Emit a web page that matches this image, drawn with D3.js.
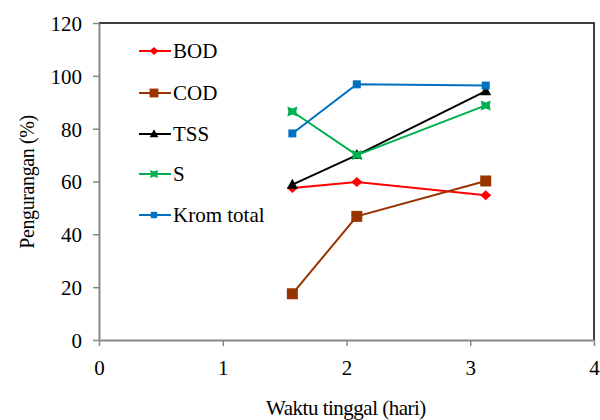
<!DOCTYPE html>
<meta charset="utf-8">
<style>
    body { margin: 0; background: #fff; }
    text { font-family: "Liberation Serif", "Times New Roman", serif; fill: #000; }
</style>
<svg width="600" height="420"></svg>
<script src="https://cdn.jsdelivr.net/npm/d3@7"></script>
<script>
    // data
    var waktu = [1.5625, 2.0833, 3.125];
    var seriesNames = ["BOD", "COD", "TSS", "S", "Krom total"];
    var bod = [57.5, 59.8, 54.8];
    var cod = [17.5, 46.8, 60.2];
    var tss = [58.8, 70.0, 94.2];
    var sulfida = [86.5, 70.0, 88.8];
    var krom = [78.2, 96.8, 96.3];
    var xTicks = [0, 1, 2, 3, 4];
    var yTicks = [0, 20, 40, 60, 80, 100, 120];

    var svg = d3.select("svg"),
        x = d3.scaleLinear().domain([0, 4]).range([99, 594]),
        y = d3.scaleLinear().domain([0, 120]).range([340, 23]);

    var series = [
        {name: seriesNames[0], vals: bod, color: "#ff0000", sym: "diamond"},
        {name: seriesNames[1], vals: cod, color: "#993300", sym: "bigsquare"},
        {name: seriesNames[2], vals: tss, color: "#000000", sym: "triangle"},
        {name: seriesNames[3], vals: sulfida, color: "#00b050", sym: "bowtie"},
        {name: seriesNames[4], vals: krom, color: "#0070c0", sym: "square"}
    ];

    // frame: top and right black
    svg.append("path")
        .attr("d", "M" + x(0) + "," + y(120) + "H" + x(4) + "V" + y(0))
        .attr("fill", "none").attr("stroke", "#000").attr("stroke-width", 1.5);

    var yAxis = svg.append("g")
        .attr("transform", "translate(" + x(0) + ",0)")
        .call(d3.axisLeft(y).tickValues(yTicks).tickFormat(d3.format("d"))
            .tickSizeInner(6).tickSizeOuter(0).tickPadding(11));
    var xAxis = svg.append("g")
        .attr("transform", "translate(0," + y(0) + ")")
        .call(d3.axisBottom(x).tickValues(xTicks).tickFormat(d3.format("d"))
            .tickSizeInner(6).tickSizeOuter(0).tickPadding(22));

    [yAxis, xAxis].forEach(function (a) {
        a.select(".domain").attr("stroke", "#888").attr("stroke-width", 2);
        a.selectAll(".tick line").attr("stroke", "#888").attr("stroke-width", 1.5);
        a.selectAll(".tick text")
            .style("font-size", "21px")
            .style("font-family", "'Liberation Serif', serif");
    });
    yAxis.selectAll(".tick text").attr("dy", "0.35em");
    xAxis.selectAll(".tick text").attr("dy", "0.35em");

    function symbol(g, sym, color, cx, cy, k) {
        k = k || 1;
        var t = "translate(" + cx + "," + cy + ") scale(" + k + ")";
        if (sym === "diamond") {
            g.append("path").attr("d", "M0,-5L5.5,0L0,5L-5.5,0Z")
                .attr("transform", t).attr("fill", color);
        } else if (sym === "bigsquare") {
            g.append("path").attr("d", "M-5.5,-5.5H5.5V5.5H-5.5Z")
                .attr("transform", t).attr("fill", color);
        } else if (sym === "square") {
            g.append("path").attr("d", "M-4,-4H4V4H-4Z")
                .attr("transform", t).attr("fill", color);
        } else if (sym === "triangle") {
            g.append("path").attr("d", "M0,-6L5.5,4L-5.5,4Z")
                .attr("transform", t).attr("fill", color);
        } else {
            g.append("path")
                .attr("d", "M-5,-5L0,-3L5,-5L4,0L5,5L0,3L-5,5L-4,0Z")
                .attr("transform", t).attr("fill", color);
        }
    }

    var line = d3.line()
        .x(function (d, i) { return x(waktu[i]); })
        .y(function (d) { return y(d); });

    series.forEach(function (s) {
        var g = svg.append("g");
        g.append("path")
            .attr("d", line(s.vals))
            .attr("fill", "none")
            .attr("stroke", s.color)
            .attr("stroke-width", 2);
        s.vals.forEach(function (v, i) {
            symbol(g, s.sym, s.color, x(waktu[i]), y(v));
        });
    });

    // legend
    var legY = [51, 93, 134, 174, 215];
    series.forEach(function (s, i) {
        var g = svg.append("g");
        g.append("line")
            .attr("x1", 139).attr("x2", 171)
            .attr("y1", legY[i]).attr("y2", legY[i])
            .attr("stroke", s.color).attr("stroke-width", 2);
        symbol(g, s.sym, s.color, 154, legY[i], 0.8);
        g.append("text")
            .attr("x", 173).attr("y", legY[i] + 7)
            .style("font-size", "21px")
            .text(s.name);
    });

    // axis titles
    svg.append("text")
        .attr("transform", "translate(34," + 182 + ") rotate(-90)")
        .attr("text-anchor", "middle")
        .style("font-size", "20px")
        .style("letter-spacing", "-0.4px")
        .text("Pengurangan (%)");
    svg.append("text")
        .attr("x", 346).attr("y", 415)
        .attr("text-anchor", "middle")
        .style("font-size", "21px")
        .style("letter-spacing", "-0.5px")
        .text("Waktu tinggal (hari)");
</script>
